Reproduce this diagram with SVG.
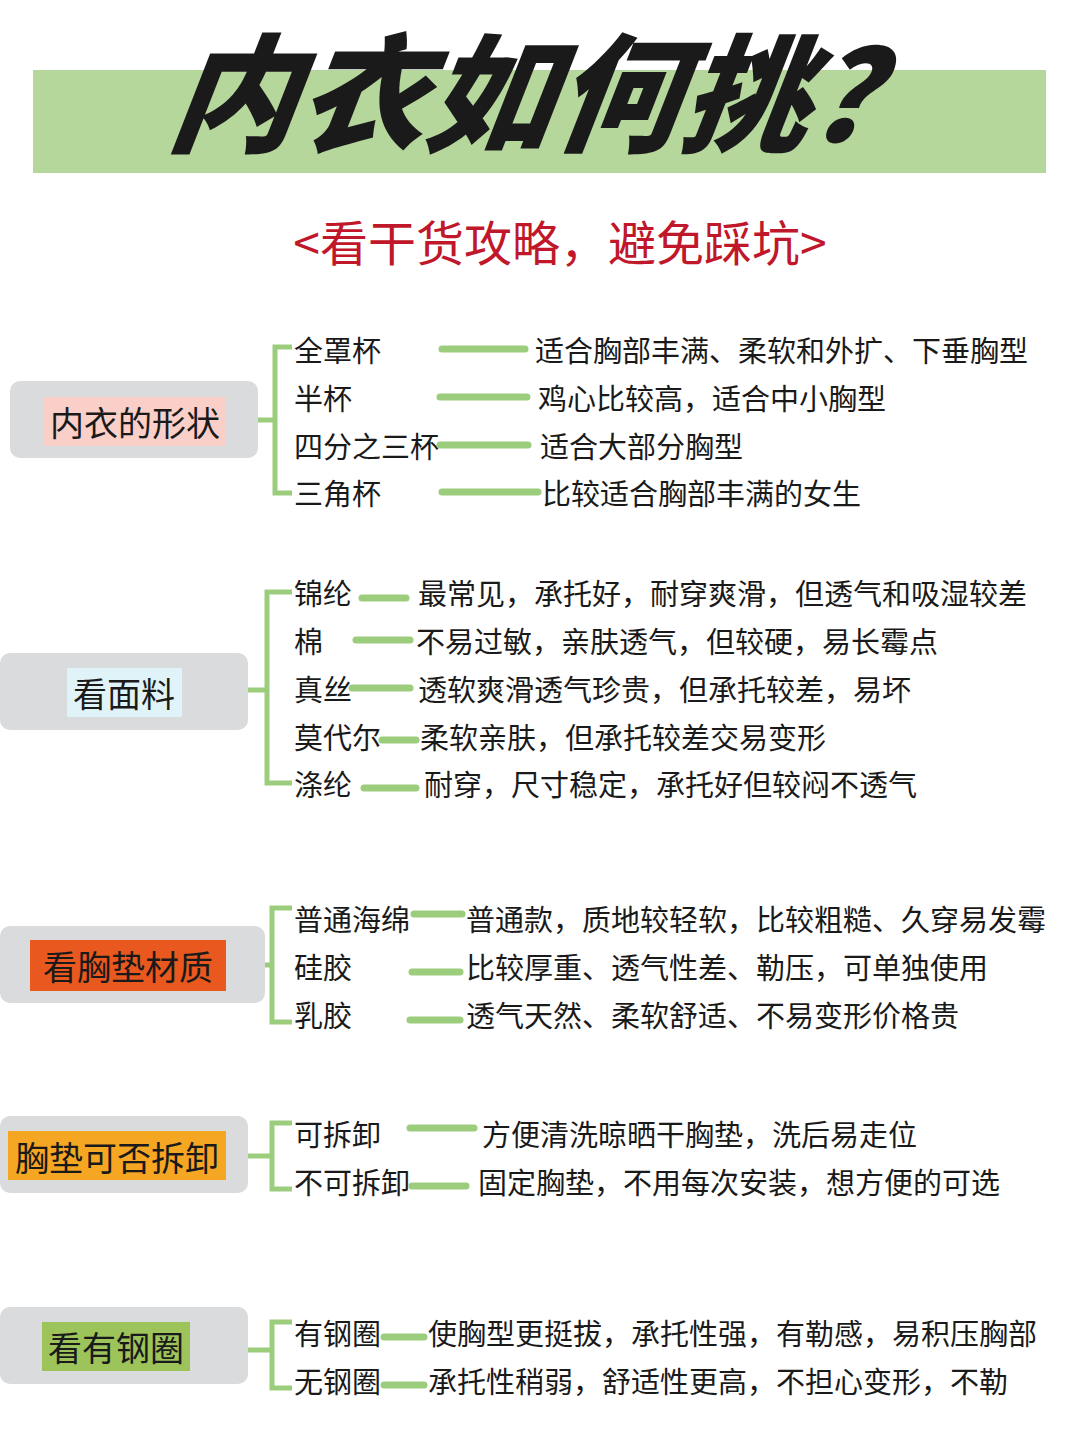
<svg xmlns="http://www.w3.org/2000/svg" width="1080" height="1440" viewBox="0 0 1080 1440">
<style>
text{font-family:"Noto Sans CJK SC","Noto Sans",sans-serif;fill:#1a1a1a}
.it{font-size:29px;dominant-baseline:central}
.lb{font-size:34px;dominant-baseline:central;text-anchor:middle}
.box{fill:#d9dbdc}
.br{fill:none;stroke:#9ccd7d;stroke-width:5}
.ln{stroke:#9ccd7d;stroke-width:7;stroke-linecap:round}
</style>
<rect width="1080" height="1440" fill="#fff"/>
<rect x="33" y="70" width="1013" height="103" fill="#b5d79b"/>
<text x="555" y="86" text-anchor="middle" style="font-size:128px;font-weight:900;font-style:italic;dominant-baseline:central" transform="skewX(-8) translate(14 0)">内衣如何挑？</text>
<text x="560" y="240" text-anchor="middle" style="font-size:48px;fill:#c0182a;dominant-baseline:central">&lt;看干货攻略，避免踩坑&gt;</text>

<g id="n1">
<rect class="box" x="10" y="381" width="248" height="77" rx="10"/>
<rect x="44" y="397" width="182" height="49" fill="#f9cfc8"/>
<text class="lb" x="135" y="421">内衣的形状</text>
<path class="br" d="M292 347H275V493H292M258 420H275"/>
<text class="it" x="294" y="349">全罩杯</text><text class="it" x="294" y="397">半杯</text><text class="it" x="294" y="445">四分之三杯</text><text class="it" x="294" y="492">三角杯</text>
<text class="it" x="535" y="349">适合胸部丰满、柔软和外扩、下垂胸型</text>
<text class="it" x="538" y="397">鸡心比较高，适合中小胸型</text>
<text class="it" x="540" y="445">适合大部分胸型</text>
<text class="it" x="542" y="492">比较适合胸部丰满的女生</text>
</g>
<g id="n2">
<rect class="box" x="0" y="653" width="248" height="77" rx="10"/>
<rect x="67" y="668" width="115" height="49" fill="#dff3f8"/>
<text class="lb" x="124" y="692">看面料</text>
<path class="br" d="M292 592H267V783H292M248 690H267"/>
<text class="it" x="294" y="592">锦纶</text><text class="it" x="294" y="640">棉</text><text class="it" x="294" y="688">真丝</text><text class="it" x="294" y="736">莫代尔</text><text class="it" x="294" y="783">涤纶</text>
<text class="it" x="418" y="592">最常见，承托好，耐穿爽滑，但透气和吸湿较差</text>
<text class="it" x="416" y="640">不易过敏，亲肤透气，但较硬，易长霉点</text>
<text class="it" x="418" y="688">透软爽滑透气珍贵，但承托较差，易坏</text>
<text class="it" x="420" y="736">柔软亲肤，但承托较差交易变形</text>
<text class="it" x="424" y="783">耐穿，尺寸稳定，承托好但较闷不透气</text>
</g>
<g id="n3">
<rect class="box" x="0" y="926" width="265" height="77" rx="10"/>
<rect x="30" y="940" width="196" height="51" fill="#e8581f"/>
<text class="lb" x="128" y="965">看胸垫材质</text>
<path class="br" d="M292 908H272V1022H292M265 965H272"/>
<text class="it" x="294" y="918">普通海绵</text><text class="it" x="294" y="966">硅胶</text><text class="it" x="294" y="1014">乳胶</text>
<text class="it" x="466" y="918">普通款，质地较轻软，比较粗糙、久穿易发霉</text>
<text class="it" x="466" y="966">比较厚重、透气性差、勒压，可单独使用</text>
<text class="it" x="466" y="1014">透气天然、柔软舒适、不易变形价格贵</text>
</g>
<g id="n4">
<rect class="box" x="0" y="1116" width="248" height="77" rx="10"/>
<rect x="8" y="1131" width="218" height="49" fill="#f5a623"/>
<text class="lb" x="117" y="1156">胸垫可否拆卸</text>
<path class="br" d="M292 1123H272V1189H292M248 1156H272"/>
<text class="it" x="294" y="1133">可拆卸</text><text class="it" x="294" y="1181">不可拆卸</text>
<text class="it" x="482" y="1133">方便清洗晾晒干胸垫，洗后易走位</text>
<text class="it" x="478" y="1181">固定胸垫，不用每次安装，想方便的可选</text>
</g>
<g id="n5">
<rect class="box" x="0" y="1307" width="248" height="77" rx="10"/>
<rect x="42" y="1322" width="148" height="49" fill="#9cc45a"/>
<text class="lb" x="116" y="1346">看有钢圈</text>
<path class="br" d="M292 1322H272V1388H292M248 1350H272"/>
<text class="it" x="294" y="1332">有钢圈</text><text class="it" x="294" y="1380">无钢圈</text>
<text class="it" x="428" y="1332">使胸型更挺拔，承托性强，有勒感，易积压胸部</text>
<text class="it" x="428" y="1380">承托性稍弱，舒适性更高，不担心变形，不勒</text>
</g>
<g id="connectors">
<line class="ln" x1="442" y1="349" x2="525" y2="349"/><line class="ln" x1="440" y1="397" x2="527" y2="397"/><line class="ln" x1="440" y1="445" x2="528" y2="445"/><line class="ln" x1="442" y1="492" x2="538" y2="492"/>
<line class="ln" x1="362" y1="598" x2="406" y2="598"/><line class="ln" x1="356" y1="640" x2="410" y2="640"/><line class="ln" x1="352" y1="688" x2="410" y2="688"/><line class="ln" x1="382" y1="740" x2="416" y2="740"/><line class="ln" x1="364" y1="788" x2="416" y2="788"/>
<line class="ln" x1="414" y1="914" x2="462" y2="914"/><line class="ln" x1="412" y1="972" x2="460" y2="972"/><line class="ln" x1="410" y1="1020" x2="460" y2="1020"/>
<line class="ln" x1="410" y1="1128" x2="474" y2="1128"/><line class="ln" x1="412" y1="1186" x2="466" y2="1186"/>
<line class="ln" x1="384" y1="1337" x2="424" y2="1337"/><line class="ln" x1="384" y1="1385" x2="424" y2="1385"/>
</g>
</svg>
